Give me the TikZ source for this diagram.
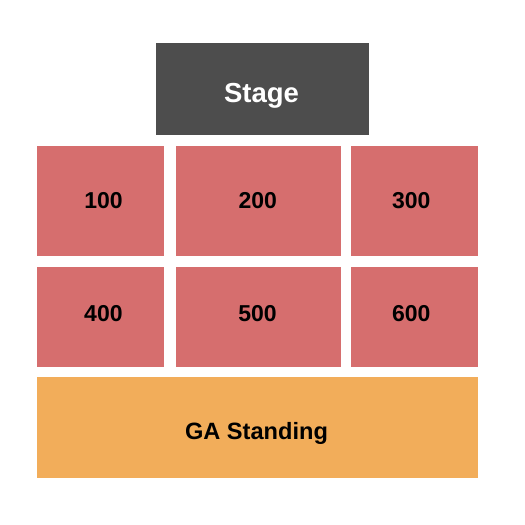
\documentclass[tikz,border=0pt]{standalone}
\usepackage{fontspec}
\setmainfont{Liberation Sans}
\definecolor{stagec}{HTML}{4D4D4D}
\definecolor{secc}{HTML}{D66E6E}
\definecolor{gac}{HTML}{F2AD5A}
\begin{document}
\begin{tikzpicture}[x=1pt,y=-1pt,
  sec/.style={fill=secc,draw=none},
  lbl/.style={anchor=base,inner sep=0pt,font=\fontsize{23}{23}\selectfont\bfseries,text=black},
]
\useasboundingbox (0,0) rectangle (525,525);
\fill[white] (0,0) rectangle (525,525);
% stage
\fill[stagec] (156,43) rectangle (369,134.7);
\node[anchor=base,inner sep=0pt,font=\fontsize{27.5}{27.5}\selectfont\bfseries,text=white] (stage) at (261.5,102.3) {Stage};
% row 1
\fill[sec] (37,146) rectangle (164,255.7);
\fill[sec] (176,146) rectangle (341,255.7);
\fill[sec] (351,146) rectangle (477.7,255.7);
\node[lbl] (s100) at (103.5,208.3) {100};
\node[lbl] (s200) at (257.8,208.3) {200};
\node[lbl] (s300) at (411.3,208.3) {300};
% row 2
\fill[sec] (37,267) rectangle (164,366.7);
\fill[sec] (176,267) rectangle (341,366.7);
\fill[sec] (351,267) rectangle (477.7,366.7);
\node[lbl] (s400) at (103.4,321.3) {400};
\node[lbl] (s500) at (257.5,321.3) {500};
\node[lbl] (s600) at (411.3,321.3) {600};
% GA
\fill[gac] (37,377) rectangle (477.7,477.7);
\node[anchor=base,inner sep=0pt,font=\fontsize{23.6}{23.6}\selectfont\bfseries,text=black] (ga) at (256.5,439.3) {GA Standing};
\end{tikzpicture}
\end{document}
